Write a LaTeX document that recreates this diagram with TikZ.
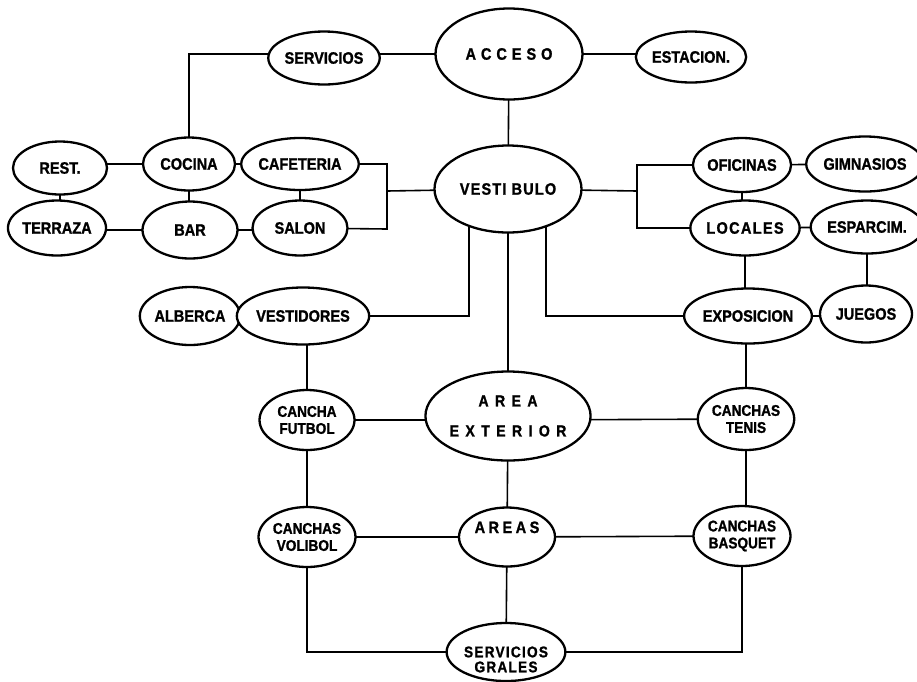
\documentclass[tikz,border=0pt]{standalone}
\usepackage{fontspec}
\defaultfontfeatures{FakeStretch=0.88, BoldFeatures={FakeBold=1.2}}
\setmainfont{Liberation Sans}
\newfontfamily\spacedA[LetterSpace=30]{Liberation Sans}
\newfontfamily\spacedB[LetterSpace=7]{Liberation Sans}
\newfontfamily\spacedC[LetterSpace=40]{Liberation Sans}
\newfontfamily\spacedD[LetterSpace=21]{Liberation Sans}
\newfontfamily\spacedE[LetterSpace=8]{Liberation Sans}
\usetikzlibrary{shapes.geometric,backgrounds}
\tikzset{
  room/.style={ellipse, draw, line width=2.3pt, fill=white, inner sep=0pt,
    minimum width=95pt, minimum height=55pt, align=center,
    font=\bfseries\fontsize{16.5}{17}\selectfont},
  bigroom/.style={room, minimum width=147pt, minimum height=89pt},
  link/.style={line width=1.6pt, line cap=rect}
}
\begin{document}
\begin{tikzpicture}[x=1pt,y=-1pt]
\useasboundingbox (0,0) rectangle (917,681);
% nodes
\node[bigroom, minimum height=91pt, font=\spacedA\bfseries\fontsize{16.5}{17}\selectfont] (acceso) at (509,54) {ACCESO};
\node[room, minimum height=53pt] (servicios) at (324,58) {SERVICIOS};
\node[room, minimum width=98pt, minimum height=51pt] (estacion) at (691,57) {ESTACION.};
\node[bigroom, minimum height=87pt, font=\spacedB\bfseries\fontsize{16.5}{17}\selectfont] (vestibulo) at (508,189) {VESTI BULO};
\node[room, minimum width=94pt, minimum height=53pt] (rest) at (60,168) {REST.};
\node[room, minimum width=92pt, minimum height=53pt] (cocina) at (189,164) {COCINA};
\node[room, minimum width=96pt, minimum height=52pt] (cafeteria) at (300,164) {CAFETERIA};
\node[room, minimum width=97pt] (terraza) at (57,228) {TERRAZA};
\node[room, minimum height=57pt] (bar) at (190,230) {BAR};
\node[room] (salon) at (300,228) {SALON};
\node[room, minimum width=94pt, minimum height=54pt] (oficinas) at (742,165) {OFICINAS};
\node[room, minimum width=93pt] (gimnasios) at (865,164) {GIMNASIOS};
\node[room, minimum width=94pt, font=\spacedE\bfseries\fontsize{16.5}{17}\selectfont] (locales) at (745,228) {LOCALES};
\node[room, minimum width=94pt, minimum height=53pt] (esparcim) at (867,227) {ESPARCIM.};
\node[room, minimum width=96pt, minimum height=58pt] (alberca) at (190,316) {ALBERCA};
\node[room, minimum width=97pt, minimum height=57pt] (vestidores) at (303,316) {VESTIDORES};
\node[room] (exposicion) at (748,316) {EXPOSICION};
\node[room, minimum width=92pt, minimum height=57pt] (juegos) at (866,314) {JUEGOS};
\node[bigroom, font=\spacedC\bfseries\fontsize{16}{30}\selectfont] (areaext) at (508,416) {AREA\\EXTERIOR};
\node[room, minimum height=60pt, font=\bfseries\fontsize{15.5}{17}\selectfont] (futbol) at (307,420) {CANCHA\\FUTBOL};
\node[room, minimum width=96pt, minimum height=62pt, font=\bfseries\fontsize{15.5}{17}\selectfont] (tenis) at (746,419) {CANCHAS\\TENIS};
\node[room, minimum width=97pt, minimum height=60pt, font=\bfseries\fontsize{15.5}{17}\selectfont] (volibol) at (307,537) {CANCHAS\\VOLIBOL};
\node[room, minimum width=96pt, minimum height=59pt, font=\spacedD\bfseries\fontsize{16.5}{17}\selectfont] (areas) at (507,537) {\raisebox{4pt}[0pt][0pt]{AREAS}};
\node[room, minimum width=97pt, minimum height=60pt, font=\bfseries\fontsize{15.5}{17}\selectfont] (basquet) at (742,536) {CANCHAS\\BASQUET};
\node[room, minimum width=93pt, minimum height=58pt, font=\spacedE\bfseries\fontsize{15.5}{17}\selectfont] (grales) at (506,652) {\raisebox{-13pt}[0pt][0pt]{\begin{tabular}{@{}c@{}}SERVICIOS\\[-2pt]GRALES\end{tabular}}};
% helper corners
\coordinate (kl2) at (387,229);
\coordinate (kl3) at (387,191);
\coordinate (kr2) at (637,228);
\coordinate (kr3) at (637,191);
\coordinate (vb1) at (469,200);
\coordinate (vb3) at (546,200);
% connectors
\begin{pgfonlayer}{background}
\draw[link] (acceso.center) -- (acceso.center -| servicios.center);
\draw[link] (acceso.center -| servicios.center) -| (cocina.center);
\draw[link] (acceso.center) -- (acceso.center -| estacion.center);
\draw[link] (acceso.center) -- (vestibulo.center);
\draw[link] (cocina.center) -- (cocina.center -| rest.center);
\draw[link] (cocina.center) -- (cocina.center -| cafeteria.center);
\draw[link] (bar.center) -- (bar.center -| terraza.center);
\draw[link] (bar.center) -- (bar.center -| salon.center);
\draw[link] (rest.center) -- (rest.center |- terraza.center);
\draw[link] (cocina.center) -- (cocina.center |- bar.center);
\draw[link] (cafeteria.center) -- (cafeteria.center |- salon.center);
\draw[link] (cafeteria.center) -| (kl2) -- (salon.center);
\draw[link] (kl3) -- (vestibulo.center);
\draw[link] (oficinas.center) -| (kr2) -- (locales.center);
\draw[link] (kr3) -- (vestibulo.center);
\draw[link] (oficinas.center) -- (gimnasios.center);
\draw[link] (locales.center) -- (esparcim.center);
\draw[link] (oficinas.center) -- (oficinas.center |- locales.center);
\draw[link] (locales.center) -- (locales.center |- exposicion.center);
\draw[link] (esparcim.center) -- (esparcim.center |- juegos.center);
\draw[link] (exposicion.center) -- (exposicion.center -| juegos.center);
\draw[link] (tenis.center) -- (tenis.center |- exposicion.center);
\draw[link] (vb1) |- (vestidores.center);
\draw[link] (vb3) |- (exposicion.center);
\draw[link] (alberca.center) -- (vestidores.center);
\draw[link] (vestibulo.center) -- (areaext.center);
\draw[link] (futbol.center) -- (futbol.center |- vestidores.center);
\draw[link] (futbol.center) -- (futbol.center -| areaext.center);
\draw[link] (futbol.center -| areaext.center) -- (tenis.center);
\draw[link] (futbol.center) -- (volibol.center);
\draw[link] (areaext.center) -- (areas.center);
\draw[link] (tenis.center) -- (tenis.center |- basquet.center);
\draw[link] (volibol.center) -- (areas.center);
\draw[link] (areas.center) -- (basquet.center);
\draw[link] (areas.center) -- (grales.center);
\draw[link] (volibol.center) |- (grales.center);
\draw[link] (basquet.center) |- (grales.center);
\end{pgfonlayer}
\end{tikzpicture}
\end{document}
